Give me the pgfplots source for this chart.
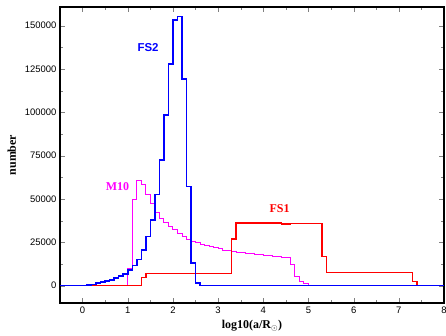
\documentclass[border=0pt]{standalone}
\usepackage{fontspec}
\setmainfont{Liberation Serif}
\setsansfont{Liberation Sans}
\usepackage{pgfplots}
\pgfplotsset{compat=1.18}
\definecolor{fsblue}{RGB}{0,0,255}
\definecolor{mten}{RGB}{255,0,255}
\definecolor{fsred}{RGB}{255,0,0}
\pgfplotsset{
  mstyle/.style={draw=mten, const plot, mark=none, line width=0.9pt},
  rstyle/.style={draw=fsred, const plot, mark=none, line width=1.5pt},
  bstyle/.style={draw=fsblue, const plot, mark=none, line width=1.5pt},
}
\begin{document}
\begin{tikzpicture}
\useasboundingbox (-60bp,-33bp) rectangle (386bp,303bp);
\begin{axis}[
  at={(0,0)}, anchor=south west,
  scale only axis, width=384bp, height=296bp,
  xmin=-0.5, xmax=8, ymin=-10000, ymax=160800,
  xtick={0,1,2,3,4,5,6,7,8},
  minor xtick={-0.5,0.5,1.5,2.5,3.5,4.5,5.5,6.5,7.5},
  ytick={0,25000,50000,75000,100000,125000,150000},
  minor ytick={12500,37500,62500,87500,112500,137500},
  tick align=inside,
  major tick length=5bp, minor tick length=3bp,
  axis line style={line width=1.3pt},
  ticklabel style={font=\fontsize{9.5}{11}\sffamily},
  /pgf/number format/fixed,
  /pgf/number format/assume math mode=true,
  /pgf/number format/1000 sep={},
  scaled y ticks=false,
  xlabel={\fontsize{12}{14}\selectfont\bfseries log10(a/R\textsubscript{$\odot$})},
  ylabel={\fontsize{12}{14}\selectfont\bfseries number},
  ylabel style={yshift=2bp},
]
% M10 (magenta), drawn in short pieces
\addplot[mstyle] coordinates {(-0.5,0) (1.0,10000) (1.1,49700) (1.2,60700) (1.3,60700)};
\addplot[mstyle] coordinates {(1.2,60700) (1.3,58300) (1.4,52600) (1.5,47600) (1.6,47600)};
\addplot[mstyle] coordinates {(1.5,47600) (1.6,42300) (1.7,38900) (1.8,36400) (1.9,36400)};
\addplot[mstyle] coordinates {(1.8,36400) (1.9,34100) (2.0,32200) (2.1,30300) (2.2,30300)};
\addplot[mstyle] coordinates {(2.1,30300) (2.2,28300) (2.3,26800) (2.4,25800) (2.5,25800)};
\addplot[mstyle] coordinates {(2.4,25800) (2.5,24800) (2.6,23900) (2.7,23100) (2.8,23100)};
\addplot[mstyle] coordinates {(2.7,23100) (2.8,22500) (2.9,21800) (3.0,21200) (3.1,21200)};
\addplot[mstyle] coordinates {(3.0,21200) (3.1,20600) (3.2,20100) (3.3,19700) (3.4,19700)};
\addplot[mstyle] coordinates {(3.3,19700) (3.4,19300) (3.5,19000) (3.6,18700) (3.7,18700)};
\addplot[mstyle] coordinates {(3.6,18700) (3.7,18400) (3.8,18100) (3.9,17800) (4.0,17800)};
\addplot[mstyle] coordinates {(3.9,17800) (4.0,17500) (4.1,17200) (4.2,16900) (4.3,16900)};
\addplot[mstyle] coordinates {(4.2,16900) (4.3,16700) (4.4,16500) (4.5,16200) (4.6,16200)};
\addplot[mstyle] coordinates {(4.5,16200) (4.6,12500) (4.7,5200) (4.8,2300) (4.9,2300)};
\addplot[mstyle] coordinates {(4.8,2300) (4.9,1000) (5.0,0) (8.0,0)};
% FS1 (red)
\addplot[rstyle] coordinates {(-0.5,0) (1.3,4800) (1.4,7100) (2.3,7100)};
\addplot[rstyle] coordinates {(2.2,7000) (2.3,6900) (3.3,6900)};
\addplot[rstyle] coordinates {(3.2,6900) (3.3,26800) (3.4,36100) (4.4,36100)};
\addplot[rstyle] coordinates {(4.3,36100) (4.4,35700) (4.6,36000) (5.3,36000)};
\addplot[rstyle] coordinates {(5.2,36000) (5.3,16700) (5.4,7500) (6.4,7500)};
\addplot[rstyle] coordinates {(6.3,7500) (7.3,2300) (7.4,0) (8.0,0)};
% FS2 (blue)
\addplot[bstyle] coordinates {(-0.5,0) (0.0,200) (0.1,400) (0.2,800) (0.3,1400) (0.4,1400)};
\addplot[bstyle] coordinates {(0.3,1400) (0.4,2000) (0.5,2700) (0.6,3300) (0.7,4300) (0.8,4300)};
\addplot[bstyle] coordinates {(0.7,4300) (0.8,5600) (0.9,6800) (1.0,9100) (1.1,9100)};
\addplot[bstyle] coordinates {(1.0,9100) (1.1,11600) (1.2,15200) (1.3,20600) (1.4,20600)};
\addplot[bstyle] coordinates {(1.3,20600) (1.4,28300) (1.5,37900) (1.6,37900)};
\addplot[bstyle] coordinates {(1.5,37900) (1.6,52600) (1.7,52600)};
\addplot[bstyle] coordinates {(1.6,52600) (1.7,72600) (1.8,72600)};
\addplot[bstyle] coordinates {(1.7,72600) (1.8,98600) (1.9,98600)};
\addplot[bstyle] coordinates {(1.8,98600) (1.9,128000) (2.0,128000)};
\addplot[bstyle] coordinates {(1.9,128000) (2.0,153200) (2.1,155400) (2.2,155400)};
\addplot[bstyle] coordinates {(2.1,155400) (2.2,119300) (2.3,119300)};
\addplot[bstyle] coordinates {(2.2,119300) (2.3,57200) (2.4,57200)};
\addplot[bstyle] coordinates {(2.3,57200) (2.4,13000) (2.5,1500) (2.6,0) (4.0,0)};
\addplot[bstyle] coordinates {(3.9,0) (6.0,0)};
\addplot[bstyle] coordinates {(5.9,0) (8.0,0)};
\node[color=fsblue, font=\fontsize{11.5}{13}\sffamily\bfseries] at (axis cs:1.45,137200) {FS2};
\node[color=mten, font=\fontsize{12}{14}\selectfont\bfseries] at (axis cs:0.77,57000) {M10};
\node[color=fsred, font=\fontsize{12}{14}\selectfont\bfseries] at (axis cs:4.36,44300) {FS1};
\end{axis}
\end{tikzpicture}
\end{document}
